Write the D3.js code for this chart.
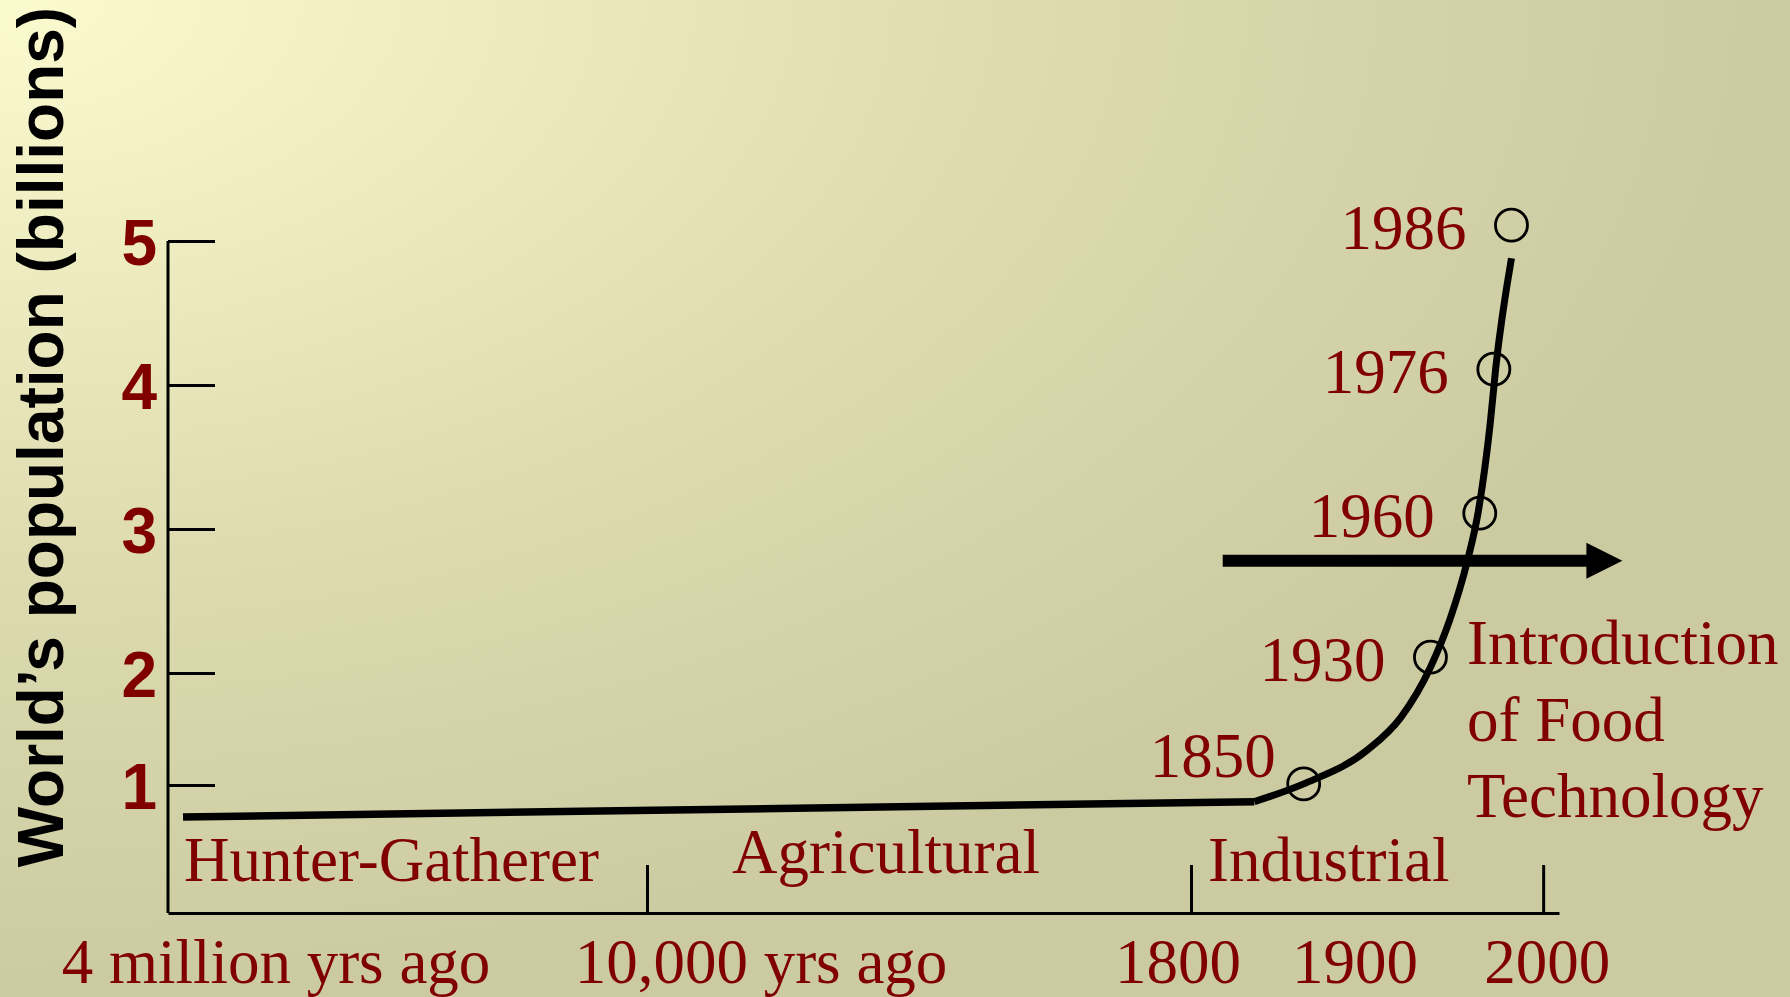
<!DOCTYPE html>
<html>
<head>
<meta charset="utf-8">
<script src="https://cdn.jsdelivr.net/npm/d3@7"></script>
<style>
  body { margin: 0; overflow: hidden; }
  text { font-family: "Liberation Serif", "Times New Roman", serif; }
</style>
</head>
<body>
<svg id="chart"></svg>
<script>
// population axis
const popTicks = [1, 2, 3, 4, 5];
// time axis (years, negative = before present)
const timeTicks = [-10000, 1800, 2000];
const timeLabels = ["4 million yrs ago", "10,000 yrs ago", "1800", "1900", "2000"];
const eraNames = ["Hunter-Gatherer", "Agricultural", "Industrial"];

// flat pre-industrial part of the curve
const flatYears = [-3875000, 1836];
const flatPop = [0.75, 0.87];

// industrial growth curve
const curveYears = [1836, 1864, 1900, 1919, 1936, 1947, 1957, 1963, 1970, 1973, 1982];
const curvePop = [0.87, 1.01, 1.31, 1.6, 2.04, 2.37, 2.78, 3.11, 3.74, 4.11, 4.88];

// marked years (circles)
const markLabels = ["1850", "1930", "1960", "1976", "1986"];
const markYears = [1864, 1936, 1964, 1972, 1982];
const markPop = [1.01, 2.11, 3.11, 4.11, 5.11];

// food technology arrow
const arrowYears = [1818, 2045];
const arrowPop = 2.78;
const noteLines = ["Introduction", "of Food", "Technology"];

const W = 1790, H = 997;
const red = "#800000";

const svg = d3.select("#chart").attr("width", W).attr("height", H);

// background gradient from the top left corner
const grad = svg.append("defs").append("radialGradient")
  .attr("id", "bg").attr("cx", 0).attr("cy", 0).attr("r", 1).attr("fx", 0).attr("fy", 0);
grad.append("stop").attr("offset", "0%").attr("stop-color", "#fcfbcf");
grad.append("stop").attr("offset", "55%").attr("stop-color", "#dedcb0");
grad.append("stop").attr("offset", "100%").attr("stop-color", "#cbcaa1");
svg.append("rect").attr("width", W).attr("height", H).attr("fill", "url(#bg)");

// scales: time is piecewise by era, population piecewise too
const x = d3.scaleLinear()
  .domain([-4000000, -10000, 1800, 2009])
  .range([168, 647, 1191, 1559]);
const y = d3.scaleLinear()
  .domain([0, 1, 2, 5])
  .range([913, 785, 673, 241]);

// y axis
const yAxis = svg.append("g")
  .attr("transform", `translate(${x(-4000000)},0)`)
  .call(d3.axisLeft(y).tickValues(popTicks).tickFormat(d3.format("d"))
    .tickSize(-47).tickSizeOuter(0).tickPadding(11));
yAxis.select(".domain").attr("stroke", "#000").attr("stroke-width", 3)
  .attr("d", `M0,${y(0)}V${y(5)}`);
yAxis.selectAll(".tick line").attr("stroke", "#000").attr("stroke-width", 3);
yAxis.selectAll(".tick text")
  .attr("fill", red)
  .attr("dy", "0.37em")
  .style("font-family", "'Liberation Sans', Arial, sans-serif")
  .style("font-weight", "bold")
  .style("font-size", "64px");

svg.append("text")
  .attr("transform", "translate(63,437) rotate(-90)")
  .attr("text-anchor", "middle")
  .style("font-family", "'Liberation Sans', Arial, sans-serif")
  .style("font-weight", "bold")
  .style("font-size", "64px")
  .attr("fill", "#000")
  .text("World\u2019s population (billions)");

// x axis
const xAxis = svg.append("g")
  .attr("transform", `translate(0,${y(0)})`)
  .call(d3.axisBottom(x).tickValues(timeTicks).tickSize(-48).tickSizeOuter(0).tickFormat(""));
xAxis.select(".domain").attr("stroke", "#000").attr("stroke-width", 3);
xAxis.selectAll(".tick line").attr("stroke", "#000").attr("stroke-width", 3);

// time labels under the axis
const timeLabelX = [x(-4000000) + 108, x(-10000) + 114, x(1800) - 13, x(1900) - 12, x(2000) + 4];
svg.append("g").selectAll("text")
  .data(timeLabels)
  .join("text")
  .attr("x", (d, i) => timeLabelX[i])
  .attr("y", 983)
  .attr("text-anchor", "middle")
  .attr("fill", red)
  .style("font-size", "63px")
  .text((d) => d);

// era names above the axis
const eraX = [x(-4000000) + 16, x(-10000) + 85, x(1800) + 17];
const eraY = [881, 873, 881];
svg.append("g").selectAll("text")
  .data(eraNames)
  .join("text")
  .attr("x", (d, i) => eraX[i])
  .attr("y", (d, i) => eraY[i])
  .attr("fill", red)
  .style("font-size", "63px")
  .text((d) => d);

// population line
const flat = flatYears.map((d, i) => ({ year: d, pop: flatPop[i] }));
const growth = curveYears.map((d, i) => ({ year: d, pop: curvePop[i] }));

svg.append("path")
  .datum(flat)
  .attr("fill", "none")
  .attr("stroke", "#000")
  .attr("stroke-width", 7.5)
  .attr("d", d3.line().x((d) => x(d.year)).y((d) => y(d.pop)));

svg.append("path")
  .datum(growth)
  .attr("fill", "none")
  .attr("stroke", "#000")
  .attr("stroke-width", 7)
  .attr("d", d3.line().x((d) => x(d.year)).y((d) => y(d.pop)).curve(d3.curveMonotoneX));

// food technology arrow
const ay = y(arrowPop);
const headBase = x(arrowYears[1]) - 36;
svg.append("line")
  .attr("x1", x(arrowYears[0])).attr("x2", headBase + 2)
  .attr("y1", ay).attr("y2", ay)
  .attr("stroke", "#000").attr("stroke-width", 12);
svg.append("path")
  .attr("d", `M${headBase},${ay - 18}L${x(arrowYears[1])},${ay}L${headBase},${ay + 18}Z`)
  .attr("fill", "#000");

// marked years
const marks = markYears.map((d, i) => ({ year: d, pop: markPop[i], label: markLabels[i] }));
svg.append("g").selectAll("circle")
  .data(marks)
  .join("circle")
  .attr("cx", (d) => x(d.year))
  .attr("cy", (d) => y(d.pop))
  .attr("r", 16)
  .attr("fill", "none")
  .attr("stroke", "#000")
  .attr("stroke-width", 2.8);

svg.append("g").selectAll("text")
  .data(marks)
  .join("text")
  .attr("x", (d, i) => x(d.year) - (i === 0 ? 28 : 45))
  .attr("y", (d, i) => y(d.pop) + (i === 0 ? -7 : 24))
  .attr("text-anchor", "end")
  .attr("fill", red)
  .style("font-size", "63px")
  .text((d) => d.label);

// note text
svg.append("g").selectAll("text")
  .data(noteLines)
  .join("text")
  .attr("x", 1467)
  .attr("y", (d, i) => 664 + i * 76.5)
  .attr("fill", red)
  .style("font-size", "63px")
  .text((d) => d);
</script>
</body>
</html>
